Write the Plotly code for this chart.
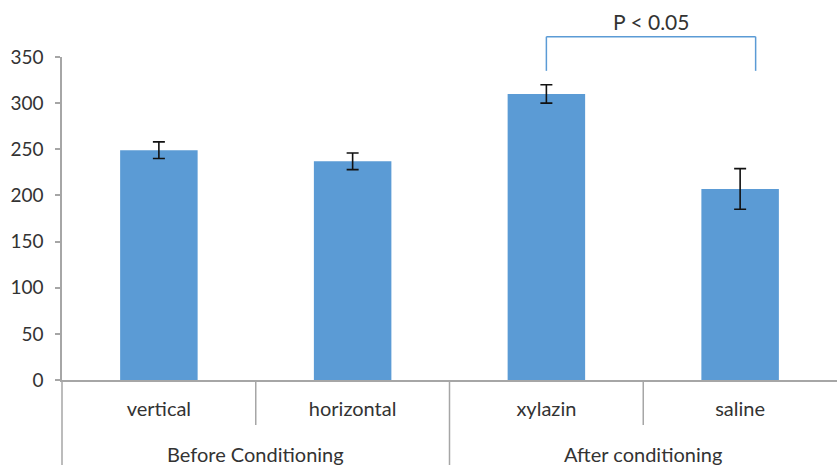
import plotly.graph_objects as go

# Data
categories = ["vertical", "horizontal", "xylazin", "saline"]
values = [249, 237, 310, 207]
errors = [9, 9, 10, 22]
groups = ["Before Conditioning", "After conditioning"]
group_centers = [0.5, 2.5]          # category-index centre of each group
group_dividers = [1.5]              # boundary between the two groups
inner_dividers = [0.5, 2.5]         # boundaries inside a group
y_ticks = [0, 50, 100, 150, 200, 250, 300, 350]
sig_label = "P < 0.05"
sig_pair = (2, 3.08)                # xylazin .. saline
sig_top, sig_leg = 372, 335         # bracket heights in data units

# Layout constants
W, H = 837, 465
M_L, M_R, M_T, M_B = 62, 0, 57, 85
PLOT_H = H - M_T - M_B
Y_MAX = 350

BAR = "#5B9BD5"
AXIS = "#A6A6A6"
TEXT = "#333333"
FONT = "Lato"


def paper_below(px):
    """Vertical paper coordinate for a point px pixels below the x axis."""
    return -px / PLOT_H


fig = go.Figure(
    go.Bar(
        x=categories,
        y=values,
        width=0.4,
        marker=dict(color=BAR, line=dict(width=0)),
        error_y=dict(type="data", array=errors, color="#111111",
                     thickness=1.6, width=6),
        hoverinfo="x+y",
    )
)

shapes = []
# divider lines below the category axis
for xv in inner_dividers:
    shapes.append(dict(type="line", xref="x", yref="paper", x0=xv, x1=xv,
                       y0=0, y1=paper_below(45),
                       line=dict(color=AXIS, width=1.5)))
for xv in group_dividers:
    shapes.append(dict(type="line", xref="x", yref="paper", x0=xv, x1=xv,
                       y0=0, y1=paper_below(M_B + 2),
                       line=dict(color=AXIS, width=1.5)))
# left edge of the category table
shapes.append(dict(type="line", xref="paper", yref="paper", x0=0, x1=0,
                   y0=0, y1=paper_below(M_B + 2),
                   line=dict(color=AXIS, width=1.5)))

# significance bracket
bx0, bx1 = sig_pair
yt, yl = sig_top / Y_MAX, sig_leg / Y_MAX
br = dict(color=BAR, width=1.5)
shapes += [
    dict(type="line", xref="x", yref="paper", x0=bx0, x1=bx1, y0=yt, y1=yt, line=br),
    dict(type="line", xref="x", yref="paper", x0=bx0, x1=bx0, y0=yt, y1=yl, line=br),
    dict(type="line", xref="x", yref="paper", x0=bx1, x1=bx1, y0=yt, y1=yl, line=br),
]

annotations = [
    dict(x=xc, y=paper_below(74), xref="x", yref="paper", text=g,
         showarrow=False, xanchor="center", yanchor="middle",
         font=dict(family=FONT, size=20, color=TEXT))
    for g, xc in zip(groups, group_centers)
]
annotations.append(
    dict(x=(bx0 + bx1) / 2, y=388 / Y_MAX, xref="x", yref="paper",
         text=sig_label, showarrow=False, xanchor="center", yanchor="middle",
         font=dict(family=FONT, size=21, color=TEXT))
)

fig.update_layout(
    width=W, height=H,
    margin=dict(l=M_L, r=M_R, t=M_T, b=M_B, pad=0),
    paper_bgcolor="white", plot_bgcolor="white",
    showlegend=False,
    shapes=shapes,
    annotations=annotations,
    font=dict(family=FONT, color=TEXT),
    xaxis=dict(
        type="category", range=[-0.5, 3.5],
        showline=True, linecolor=AXIS, linewidth=1.5,
        ticks="", showgrid=False, zeroline=False,
        tickfont=dict(family=FONT, size=20, color=TEXT),
        ticklabelstandoff=10,
    ),
    yaxis=dict(
        range=[0, Y_MAX], tickvals=y_ticks,
        showline=True, linecolor=AXIS, linewidth=1.5,
        ticks="outside", ticklen=5, tickcolor=AXIS, tickwidth=1.5,
        showgrid=False, zeroline=False,
        tickfont=dict(family=FONT, size=19, color=TEXT),
        ticklabelstandoff=8,
    ),
)

fig.write_html("out.html")
